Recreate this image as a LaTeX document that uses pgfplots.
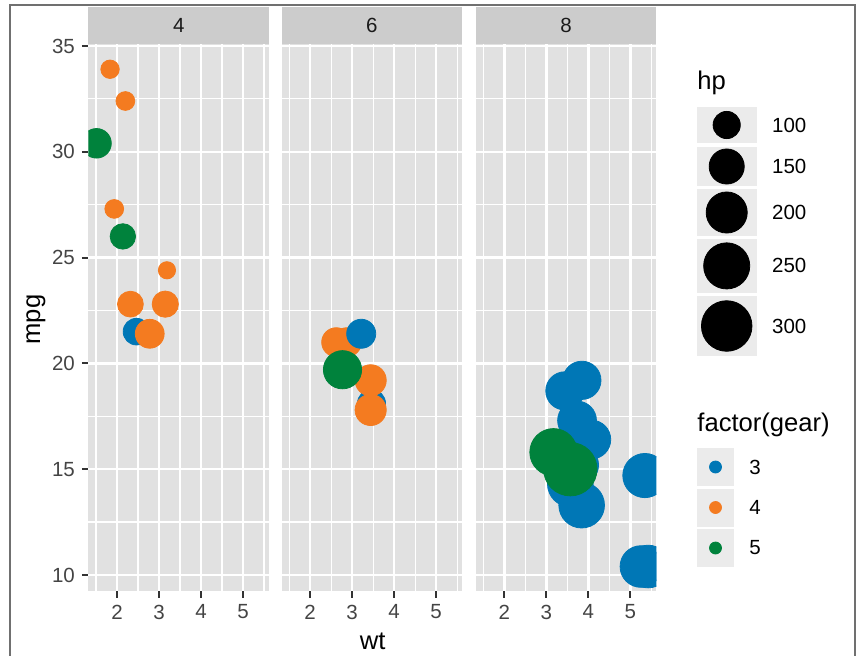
\documentclass[border=0pt]{standalone}
\usepackage{fontspec}
\setmainfont{Liberation Sans}
\usepackage{pgfplots}
\usepackage{pgfplotstable}
\pgfplotsset{compat=1.18}

\definecolor{gblue}{RGB}{0,119,182}
\definecolor{gorange}{RGB}{244,123,32}
\definecolor{ggreen}{RGB}{0,130,60}
\definecolor{panelbg}{RGB}{225,225,225}
\definecolor{stripbg}{RGB}{204,204,204}
\definecolor{keybg}{RGB}{235,235,235}
\definecolor{labgray}{RGB}{68,68,68}
\definecolor{tickgray}{RGB}{51,51,51}
\definecolor{framegray}{RGB}{112,112,112}

% mtcars, faceted by cyl: wt, mpg, hp, gear
\pgfplotstableread{
wt mpg hp gear
2.320 22.8 93 4
3.190 24.4 62 4
3.150 22.8 95 4
2.200 32.4 66 4
1.615 30.4 52 4
1.835 33.9 65 4
2.465 21.5 97 3
1.935 27.3 66 4
2.140 26.0 91 5
1.513 30.4 113 5
2.780 21.4 109 4
}\cylfour
\pgfplotstableread{
wt mpg hp gear
2.620 21.0 110 4
2.875 21.0 110 4
3.215 21.4 110 3
3.460 18.1 105 3
3.440 19.2 123 4
3.440 17.8 123 4
2.770 19.7 175 5
}\cylsix
\pgfplotstableread{
wt mpg hp gear
3.440 18.7 175 3
3.570 14.3 245 3
4.070 16.4 180 3
3.730 17.3 180 3
3.780 15.2 180 3
5.250 10.4 205 3
5.424 10.4 215 3
5.345 14.7 230 3
3.520 15.5 150 3
3.435 15.2 150 3
3.840 13.3 245 3
3.845 19.2 175 3
3.170 15.8 264 5
3.570 15.0 335 5
}\cyleight
% legend keys (pixel coordinates of the overlay)
\pgfplotstableread{
x y hp c
726.7 125.0 100 k
726.7 166.5 150 k
726.7 212.5 200 k
726.7 265.9 250 k
726.7 326.0 300 k
}\hpkeys
\pgfplotstableread{
x y gear
715.5 467.0 3
715.5 507.5 4
715.5 548.0 5
}\gearkeys

\pgfplotsset{
  panel/.style={
    scale only axis, width=90.35pt, height=273.5pt,
    anchor=south west,
    xmin=1.3175, xmax=5.6195, ymin=9.225, ymax=35.075,
    axis background/.style={fill=panelbg},
    axis line style={draw=none},
    xtick={2,3,4,5}, ytick={10,15,20,25,30,35},
    minor xtick={1.5,2.5,3.5,4.5,5.5},
    minor ytick={12.5,17.5,22.5,27.5,32.5},
    grid=both,
    major grid style={white, line width=1.2pt},
    minor grid style={white, line width=0.6pt},
    xtick pos=bottom, ytick pos=left,
    tick align=outside, major tick length=3.2pt, minor tick length=0pt,
    major tick style={color=tickgray, line width=1pt},
    /pgf/number format/assume math mode=true,
    ticklabel style={font=\fontsize{10.25}{12}\selectfont, text=labgray},
    xticklabel style={inner sep=0pt, yshift=-3.3pt},
    yticklabel style={inner sep=0pt, xshift=-3.3pt},
    clip marker paths=true,
  },
  pts/.style={
    scatter, only marks, mark=*,
    scatter src=explicit symbolic,
    scatter/classes={3={mark=*,gblue},4={mark=*,gorange},5={mark=*,ggreen}},
    visualization depends on={2.225*(1+5*sqrt((\thisrow{hp}-52)/283)) \as \msize},
    scatter/@pre marker code/.append style={/tikz/mark size=\msize},
  },
  noy/.style={yticklabels={}, ytick style={draw=none}},
}

\begin{document}
\begin{tikzpicture}
\path[use as bounding box] (0pt,0pt) rectangle (428pt,-328pt);

% overlay in pixel coordinates: frame, strips, titles, legends
\begin{axis}[at={(0pt,0pt)}, anchor=north west, scale only axis,
  width=428pt, height=328pt, xmin=0, xmax=856, ymin=0, ymax=656,
  y dir=reverse, hide axis, clip=false]
  \draw[framegray, line width=0.75pt] (10,660) -- (10,5) -- (855,5) -- (855,660);
  \fill[stripbg] (88.3,6.7) rectangle (269.0,44.4);
  \fill[stripbg] (281.5,6.7) rectangle (462.2,44.4);
  \fill[stripbg] (475.7,6.7) rectangle (656.4,44.4);
  \node[font=\fontsize{10.25}{12}\selectfont, text={rgb,255:red,26;green,26;blue,26}] at (178.7,25.5) {4};
  \node[font=\fontsize{10.25}{12}\selectfont, text={rgb,255:red,26;green,26;blue,26}] at (371.9,25.5) {6};
  \node[font=\fontsize{10.25}{12}\selectfont, text={rgb,255:red,26;green,26;blue,26}] at (566.0,25.5) {8};
  % axis titles
  \node[font=\fontsize{12.8}{15}\selectfont, anchor=base, inner sep=0pt] at (372.7,649.3) {wt};
  \node[font=\fontsize{12.8}{15}\selectfont, rotate=90, anchor=center, inner sep=0pt] at (36.0,319.5) {mpg};
  % hp legend
  \node[font=\fontsize{12.8}{15}\selectfont, anchor=base west, inner sep=0pt] at (697,90) {hp};
  \fill[keybg] (696.7,106.7) rectangle (756.7,143.3);
  \fill[keybg] (696.7,147.0) rectangle (756.7,186.0);
  \fill[keybg] (696.7,189.0) rectangle (756.7,236.0);
  \fill[keybg] (696.7,239.0) rectangle (756.7,292.7);
  \fill[keybg] (696.7,296.0) rectangle (756.7,356.0);
  \addplot[scatter, only marks, mark=*, scatter src=explicit symbolic,
    scatter/classes={k={mark=*,black}},
    visualization depends on={2.225*(1+5*sqrt((\thisrow{hp}-52)/283)) \as \msize},
    scatter/@pre marker code/.append style={/tikz/mark size=\msize}]
    table[x=x, y=y, meta=c] {\hpkeys};
  \node[font=\fontsize{10.25}{12}\selectfont, anchor=west, inner sep=0pt] at (771.7,125.0) {100};
  \node[font=\fontsize{10.25}{12}\selectfont, anchor=west, inner sep=0pt] at (771.7,166.5) {150};
  \node[font=\fontsize{10.25}{12}\selectfont, anchor=west, inner sep=0pt] at (771.7,212.5) {200};
  \node[font=\fontsize{10.25}{12}\selectfont, anchor=west, inner sep=0pt] at (771.7,265.9) {250};
  \node[font=\fontsize{10.25}{12}\selectfont, anchor=west, inner sep=0pt] at (771.7,326.0) {300};
  % gear legend
  \node[font=\fontsize{12.8}{15}\selectfont, anchor=base west, inner sep=0pt] at (697,431.6) {factor(gear)};
  \fill[keybg] (696.7,448.0) rectangle (734.3,486.0);
  \fill[keybg] (696.7,488.5) rectangle (734.3,527.0);
  \fill[keybg] (696.7,529.0) rectangle (734.3,567.0);
  \addplot[scatter, only marks, mark=*, scatter src=explicit symbolic,
    scatter/classes={3={mark=*,gblue,mark size=3pt},4={mark=*,gorange,mark size=3pt},5={mark=*,ggreen,mark size=3pt}}]
    table[x=x, y=y, meta=gear] {\gearkeys};
  \node[font=\fontsize{10.25}{12}\selectfont, anchor=west, inner sep=0pt] at (749,467.0) {3};
  \node[font=\fontsize{10.25}{12}\selectfont, anchor=west, inner sep=0pt] at (749,507.5) {4};
  \node[font=\fontsize{10.25}{12}\selectfont, anchor=west, inner sep=0pt] at (749,548.0) {5};
\end{axis}

\begin{axis}[panel, at={(44.15pt,-295.7pt)}]
  \addplot[pts] table[x=wt, y=mpg, meta=gear] {\cylfour};
\end{axis}
\begin{axis}[panel, noy, at={(140.75pt,-295.7pt)}]
  \addplot[pts] table[x=wt, y=mpg, meta=gear] {\cylsix};
\end{axis}
\begin{axis}[panel, noy, at={(237.85pt,-295.7pt)}]
  \addplot[pts] table[x=wt, y=mpg, meta=gear] {\cyleight};
\end{axis}
\end{tikzpicture}
\end{document}
